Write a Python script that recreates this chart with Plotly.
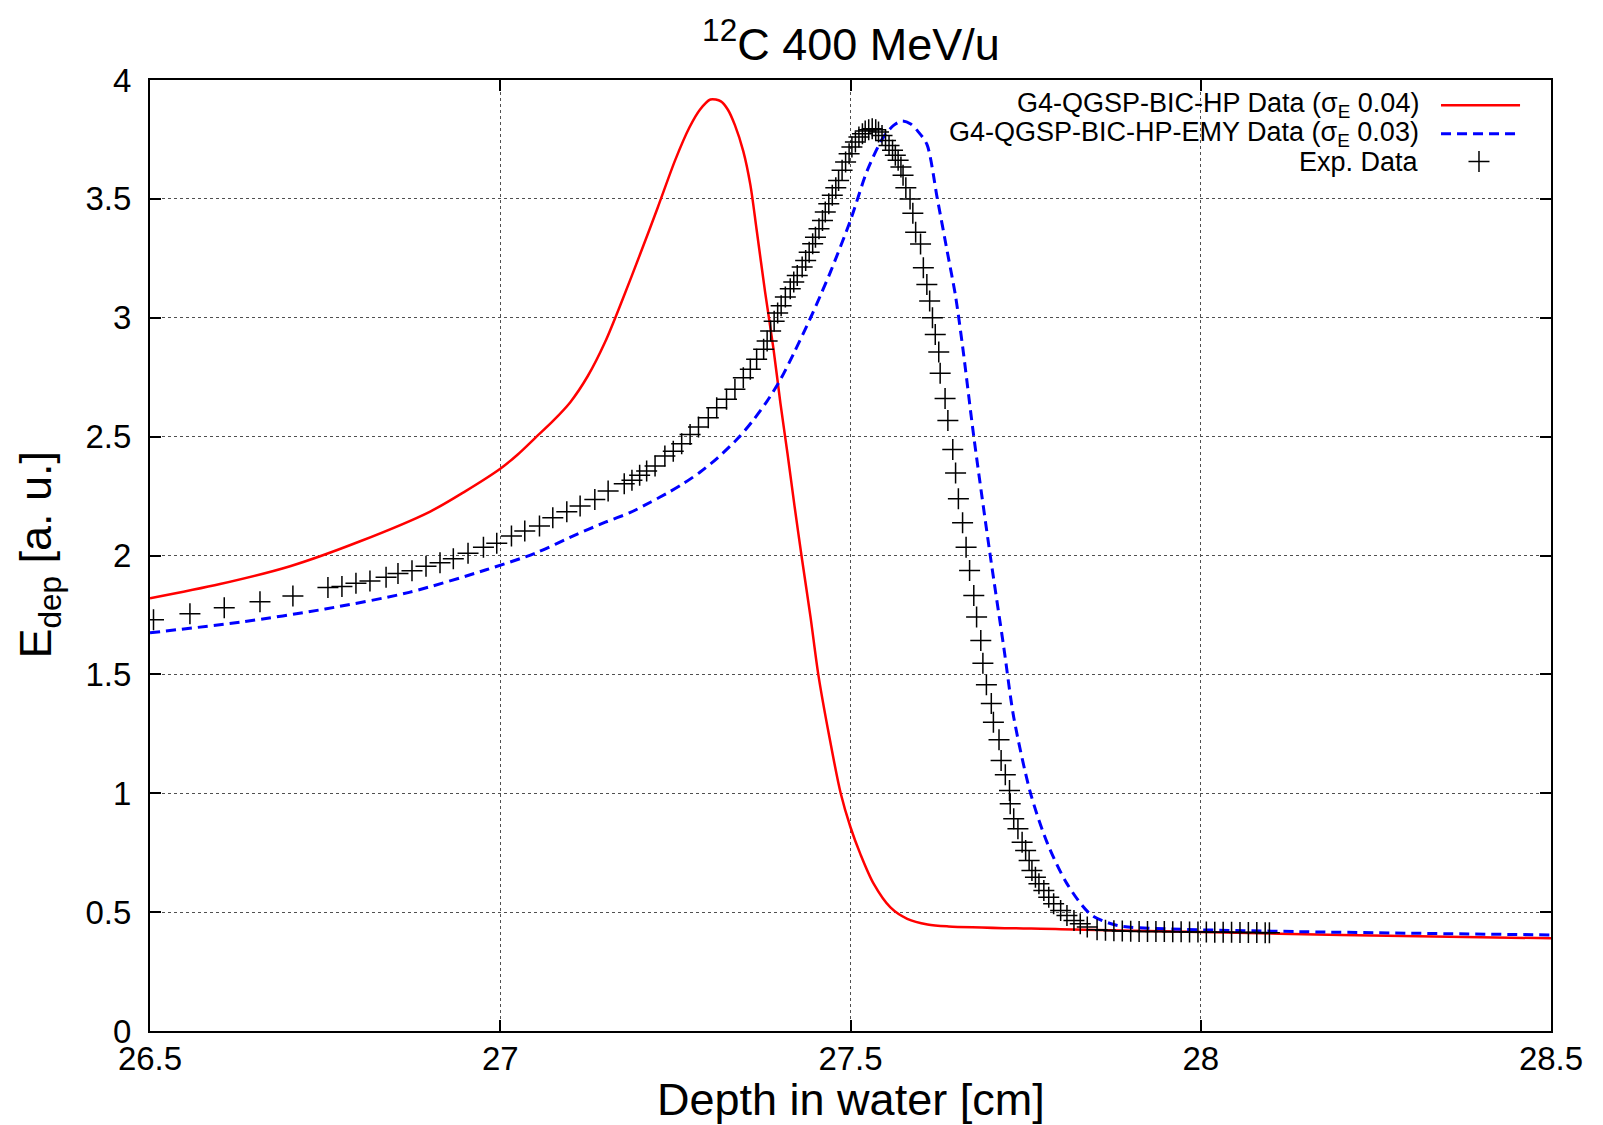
import plotly.graph_objects as go

# ---------------- data ----------------
red_x = [26.50, 26.60, 26.70, 26.80, 26.90, 26.95, 27.00, 27.025, 27.05, 27.075, 27.10, 27.125,
         27.15, 27.175, 27.20, 27.225, 27.25, 27.27, 27.285, 27.30, 27.315, 27.325, 27.335,
         27.347, 27.357, 27.366, 27.378, 27.39, 27.40, 27.41, 27.42, 27.431, 27.443, 27.454,
         27.469, 27.486, 27.50, 27.514, 27.533, 27.557, 27.581, 27.61, 27.64, 27.80, 28.00,
         28.20, 28.50]
red_y = [1.82, 1.88, 1.955, 2.06, 2.185, 2.27, 2.365, 2.425, 2.495, 2.565, 2.645, 2.755,
         2.90, 3.08, 3.27, 3.465, 3.665, 3.80, 3.875, 3.918, 3.91, 3.875, 3.81,
         3.70, 3.56, 3.37, 3.11, 2.87, 2.64, 2.43, 2.21, 1.98, 1.74, 1.50,
         1.25, 1.00, 0.857, 0.745, 0.62, 0.52, 0.472, 0.448, 0.44, 0.428, 0.416,
         0.404, 0.39]

blue_x = [26.50, 26.63, 26.75, 26.87, 26.98, 27.05, 27.11, 27.15, 27.185, 27.215, 27.24, 27.26,
          27.285, 27.31, 27.34, 27.36, 27.38, 27.40, 27.419, 27.443, 27.458, 27.471, 27.50,
          27.524, 27.547, 27.562, 27.574, 27.586, 27.596, 27.609, 27.624, 27.638, 27.650,
          27.660, 27.676, 27.699, 27.719, 27.733, 27.757, 27.781, 27.809, 27.843, 27.881,
          27.95, 28.14, 28.50]
blue_y = [1.675, 1.72, 1.775, 1.845, 1.94, 2.01, 2.09, 2.14, 2.18, 2.225, 2.265, 2.30,
          2.35, 2.41, 2.495, 2.565, 2.645, 2.74, 2.85, 3.00, 3.10, 3.19, 3.41,
          3.62, 3.76, 3.81, 3.828, 3.815, 3.785, 3.73, 3.50, 3.28, 3.09,
          2.88, 2.50, 2.01, 1.61, 1.32, 1.00, 0.79, 0.62, 0.49, 0.444,
          0.43, 0.418, 0.404]

exp_x = [26.505, 26.557, 26.606, 26.657, 26.704, 26.754, 26.774, 26.794, 26.814, 26.837,
         26.854, 26.874, 26.894, 26.914, 26.933, 26.954, 26.976, 26.995, 27.016, 27.035,
         27.056, 27.075, 27.095, 27.114, 27.135, 27.154, 27.177, 27.188, 27.199, 27.209,
         27.221, 27.235, 27.247, 27.259, 27.271, 27.283, 27.297, 27.309, 27.323, 27.335,
         27.347, 27.357, 27.366, 27.376, 27.381, 27.386, 27.391, 27.396, 27.401, 27.407,
         27.414, 27.419, 27.424, 27.431, 27.436, 27.441, 27.446, 27.450, 27.455, 27.460,
         27.464, 27.469, 27.474, 27.479, 27.483, 27.488, 27.493, 27.498, 27.502, 27.507,
         27.512, 27.517, 27.521, 27.526, 27.531, 27.536, 27.540, 27.545, 27.550, 27.555,
         27.560, 27.564, 27.568, 27.572, 27.575, 27.579, 27.585, 27.589, 27.593, 27.600,
         27.604, 27.609, 27.613, 27.617, 27.621, 27.626, 27.628, 27.635, 27.639, 27.646,
         27.650, 27.654, 27.660, 27.665, 27.670, 27.676, 27.680, 27.686, 27.689, 27.694,
         27.701, 27.704, 27.712, 27.715, 27.721, 27.727, 27.728, 27.733, 27.739, 27.745,
         27.750, 27.755, 27.759, 27.764, 27.769, 27.776, 27.783, 27.790, 27.800, 27.809,
         27.819, 27.828, 27.838, 27.852, 27.864, 27.876, 27.888, 27.900, 27.912, 27.924,
         27.936, 27.948, 27.960, 27.972, 27.984, 27.996, 28.008, 28.020, 28.032, 28.044,
         28.056, 28.068, 28.080, 28.092, 28.098]
exp_y = [1.73, 1.755, 1.78, 1.805, 1.83, 1.865, 1.87, 1.883, 1.893, 1.908,
         1.924, 1.936, 1.955, 1.970, 1.986, 2.009, 2.035, 2.052, 2.082, 2.103,
         2.124, 2.159, 2.184, 2.208, 2.236, 2.271, 2.302, 2.316, 2.338, 2.355,
         2.376, 2.418, 2.439, 2.470, 2.509, 2.540, 2.579, 2.621, 2.657, 2.699,
         2.748, 2.783, 2.825, 2.867, 2.902, 2.944, 2.985, 3.02, 3.05, 3.087,
         3.122, 3.150, 3.178, 3.213, 3.241, 3.276, 3.311, 3.339, 3.374, 3.409,
         3.445, 3.480, 3.515, 3.547, 3.577, 3.620, 3.655, 3.690, 3.718, 3.739,
         3.760, 3.774, 3.785, 3.791, 3.795, 3.791, 3.781, 3.767, 3.746, 3.725,
         3.704, 3.683, 3.662, 3.634, 3.599, 3.547, 3.50, 3.44, 3.36, 3.31,
         3.21, 3.14, 3.07, 3.00, 2.93, 2.856, 2.767, 2.660, 2.568, 2.446,
         2.347, 2.239, 2.138, 2.035, 1.937, 1.832, 1.741, 1.643, 1.547, 1.456,
         1.377, 1.299, 1.225, 1.138, 1.078, 1.012, 0.956, 0.893, 0.851, 0.794,
         0.759, 0.717, 0.675, 0.647, 0.619, 0.591, 0.563, 0.535, 0.507, 0.486,
         0.465, 0.451, 0.437, 0.426, 0.424, 0.422, 0.421, 0.420, 0.419, 0.419,
         0.418, 0.418, 0.417, 0.417, 0.416, 0.416, 0.416, 0.415, 0.415, 0.415,
         0.414, 0.414, 0.414, 0.413, 0.413]

x_ticks = [26.5, 27, 27.5, 28, 28.5]
y_ticks = [0, 0.5, 1, 1.5, 2, 2.5, 3, 3.5, 4]

legend_labels = ["G4-QGSP-BIC-HP Data (σ<sub>E</sub> 0.04)",
                 "G4-QGSP-BIC-HP-EMY Data (σ<sub>E</sub> 0.03)",
                 "Exp. Data"]

FONT = "Liberation Sans, Arial, Helvetica, sans-serif"
RED = "#ff0000"
BLUE = "#0000ff"
BLUE_DASH = "10px,6px"

fig = go.Figure()

fig.add_trace(go.Scatter(x=red_x, y=red_y, mode="lines",
                         line=dict(color=RED, width=2.5, shape="spline", smoothing=0.85),
                         showlegend=False, name=legend_labels[0]))
fig.add_trace(go.Scatter(x=blue_x, y=blue_y, mode="lines",
                         line=dict(color=BLUE, width=3, dash=BLUE_DASH, shape="spline", smoothing=0.8),
                         showlegend=False, name=legend_labels[1]))
fig.add_trace(go.Scatter(x=exp_x, y=exp_y, mode="markers",
                         marker=dict(symbol="cross-thin", size=15, color="black",
                                     line=dict(color="black", width=1.5)),
                         showlegend=False, name=legend_labels[2]))

# ---- manual gnuplot-style legend (samples on an overlay 0..1 axis) ----
leg_rows = [0.9735, 0.9435, 0.9143]
fig.add_trace(go.Scatter(x=[0.9215, 0.9779], y=[leg_rows[0]] * 2, mode="lines",
                         line=dict(color=RED, width=2.5), xaxis="x2", yaxis="y2",
                         showlegend=False, hoverinfo="skip"))
fig.add_trace(go.Scatter(x=[0.9215, 0.9779], y=[leg_rows[1]] * 2, mode="lines",
                         line=dict(color=BLUE, width=3, dash=BLUE_DASH), xaxis="x2", yaxis="y2",
                         showlegend=False, hoverinfo="skip"))
fig.add_trace(go.Scatter(x=[0.9486], y=[leg_rows[2]], mode="markers",
                         marker=dict(symbol="cross-thin", size=15, color="black",
                                     line=dict(color="black", width=1.5)),
                         xaxis="x2", yaxis="y2", showlegend=False, hoverinfo="skip"))

for lbl, yy in zip(legend_labels, leg_rows):
    fig.add_annotation(text=lbl, x=0.9072, y=yy, xref="paper", yref="paper",
                       xanchor="right", yanchor="middle", showarrow=False,
                       font=dict(family=FONT, size=27, color="black"))

# axis titles
fig.add_annotation(text="Depth in water [cm]", x=0.5, y=0, xref="paper", yref="paper",
                   xanchor="center", yanchor="middle", yshift=-68, showarrow=False,
                   font=dict(family=FONT, size=45, color="black"))
fig.add_annotation(text="E<sub>dep</sub> [a. u.]", x=0, y=0.501, xref="paper", yref="paper",
                   xanchor="center", yanchor="middle", xshift=-111, textangle=-90,
                   showarrow=False, font=dict(family=FONT, size=45, color="black"))

# opaque legend background (hides grid behind the key, as gnuplot does)
fig.add_shape(type="rect", xref="paper", yref="paper", x0=0.567, x1=0.999, y0=0.897, y1=0.999,
              fillcolor="white", line=dict(width=0), layer="between")

grid = dict(showgrid=True, gridcolor="#505050", gridwidth=1, griddash="3px,3px")
axis_common = dict(showline=True, linecolor="black", linewidth=2, mirror="ticks",
                   ticks="inside", ticklen=11, tickwidth=1.5, tickcolor="black",
                   zeroline=False, automargin=False,
                   tickfont=dict(family=FONT, size=33, color="black"), **grid)

# the page body adds an 8px offset; size/margins compensate so the screenshot matches
fig.update_layout(
    width=1595, height=1117,
    paper_bgcolor="white", plot_bgcolor="white",
    margin=dict(l=142, r=52, t=72, b=94, autoexpand=False),
    title=dict(text="<sup>12</sup>C 400 MeV/u", x=0.5285, xanchor="center",
               y=0.9678, yref="container", yanchor="middle",
               font=dict(family=FONT, size=45, color="black")),
    xaxis=dict(range=[26.5, 28.5], tickvals=x_ticks, ticktext=[f"{v:g}" for v in x_ticks],
               ticklabelstandoff=-3, **axis_common),
    yaxis=dict(range=[0, 4], tickvals=y_ticks, ticktext=[f"{v:g}" for v in y_ticks],
               ticklabelstandoff=10, **axis_common),
    xaxis2=dict(range=[0, 1], overlaying="x", visible=False, fixedrange=True),
    yaxis2=dict(range=[0, 1], overlaying="y", visible=False, fixedrange=True),
    showlegend=False,
)

fig.write_html("out.html")
